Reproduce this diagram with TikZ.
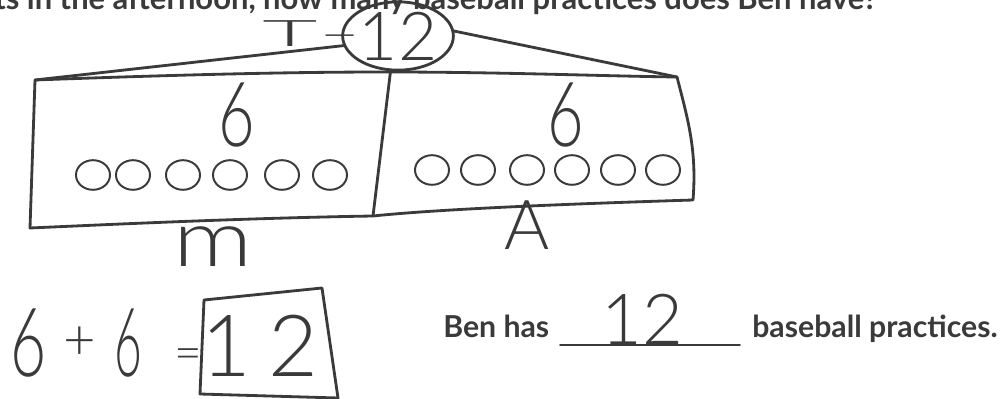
\documentclass[tikz,border=0pt]{standalone}
\usepackage{fontspec}
\setmainfont{Lato}
\newfontfamily\hand{Lato}[UprightFont={* Light}]
\usetikzlibrary{shapes.geometric}
\definecolor{ink}{HTML}{3A3A3A}
\begin{document}
\begin{tikzpicture}[x=0.025cm,y=-0.025cm,
  stroke/.style={draw=ink, line width=2pt, line cap=round, line join=round},
  thin/.style={draw=ink, line width=1.2pt, line cap=round},
  bead/.style={draw=ink, line width=1.4pt, ellipse, inner sep=0pt, minimum width=0.85cm, minimum height=0.74cm},
  hw/.style={text=ink, inner sep=0pt},
  pr/.style={text=ink, inner sep=0pt, font=\bfseries\fontsize{21.5}{24}\selectfont}]
\clip (0,0) rectangle (1008,399);
\fill[white] (0,0) rectangle (1008,399);
% cut-off question
\node[pr, anchor=base west, font=\bfseries\fontsize{22}{24}\selectfont] (q) at (-6,10) {ts in the afternoon, how many baseball practices does Ben have?};
% whole
\node[stroke, ellipse, minimum width=2.1cm, minimum height=1.6cm, inner sep=0pt, hw, font=\hand\fontsize{48}{48}\selectfont] (top) at (398,36) {12};
\node[hw, anchor=base west, font=\hand\fontsize{26}{26}\selectfont] (lbl) at (262,47) {\scalebox{2.6}[1]{T}\scalebox{3.3}[1]{-}};
% bar corners
\coordinate (tl) at (35,80);
\coordinate (tr) at (677,77);
\coordinate (br) at (693,200);
\coordinate (bl) at (30,228);
\coordinate (dt) at (387,72);
\coordinate (db) at (373,216);
\draw[stroke] (tl) .. controls (200,74) and (300,72) .. (dt) .. controls (500,72) and (600,76) .. (tr)
  .. controls (688,120) and (697,150) .. (br) .. controls (600,203) and (450,208) .. (db)
  .. controls (250,218) and (120,224) .. (bl) -- cycle;
\draw[stroke] (top.258) -- (db);
\draw[stroke] (tl) -- (top.190);
\draw[stroke] (top.5) -- (tr);
% parts
\node[hw, font=\hand\fontsize{64}{64}\selectfont] (sixL) at (237,115) {\scalebox{0.7}[1]{6}};
\node[hw, font=\hand\fontsize{64}{64}\selectfont] (sixR) at (566,115) {\scalebox{0.7}[1]{6}};
\foreach \i/\x in {1/93,2/133,3/183,4/230,5/282,6/330}
  \node[bead] (l\i) at (\x,175) {};
\foreach \i/\x in {1/432,2/478,3/527,4/572,5/618,6/663}
  \node[bead] (r\i) at (\x,170) {};
\node[hw, anchor=base, font=\hand\fontsize{56}{56}\selectfont] (m) at (213,267) {\scalebox{1.25}[1]{m}};
\node[hw, anchor=base, font=\hand\fontsize{49}{49}\selectfont] (a) at (527,250) {A};
% equation
\node[hw, anchor=base, font=\hand\fontsize{68}{68}\selectfont] (e1) at (29,377) {\scalebox{0.65}[1]{6}};
\node[hw, anchor=base, font=\hand\fontsize{40}{40}\selectfont] (e2) at (80,360) {+};
\node[hw, anchor=base, font=\hand\fontsize{68}{68}\selectfont] (e3) at (128,377) {\scalebox{0.5}[1]{6}};
\node[hw, anchor=base, font=\hand\fontsize{34}{34}\selectfont] (e4) at (188,370) {=};
\coordinate (b1) at (204,300);
\coordinate (b2) at (322,288);
\coordinate (b3) at (338,398);
\coordinate (b4) at (200,394);
\draw[stroke] (b1) -- (b2) -- (b3) -- (b4) -- cycle;
\node[hw, anchor=base, font=\hand\fontsize{61}{61}\selectfont] (ans) at (260,377) {1\hspace{0.2em}2};
% sentence
\node[pr, anchor=base west] (ben) at (443,338) {Ben has};
\coordinate (u1) at (560,345);
\coordinate (u2) at (740,345);
\draw[thin] (u1) -- (u2);
\node[hw, anchor=base, font=\hand\fontsize{50}{50}\selectfont] (twelve) at (642,345) {12};
\node[pr, anchor=base west] (bb) at (752,338) {baseball practices.};
\end{tikzpicture}
\end{document}
